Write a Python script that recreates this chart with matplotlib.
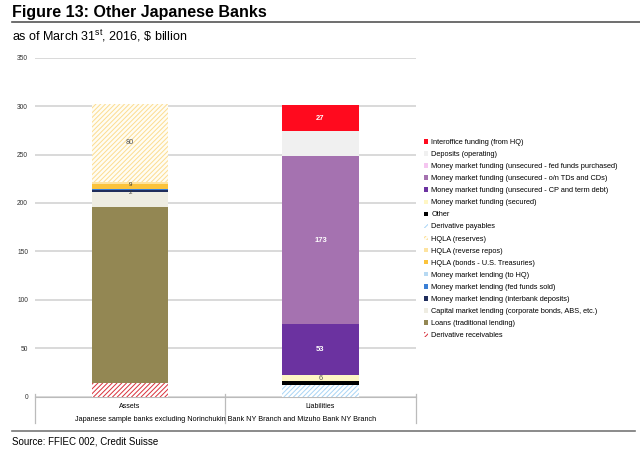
import matplotlib.pyplot as plt
import numpy as np

plt.rcParams['font.family'] = ['Liberation Sans', 'DejaVu Sans']
plt.rcParams['mathtext.fontset'] = 'custom'
plt.rcParams['mathtext.rm'] = 'Liberation Sans'
plt.rcParams['hatch.linewidth'] = 0.7

categories = ["Assets", "Liabilities"]

# stacking order, bottom to top
series = [
    "Derivative receivables",
    "Loans (traditional lending)",
    "Capital market lending (corporate bonds, ABS, etc.)",
    "Money market lending (interbank deposits)",
    "Money market lending (fed funds sold)",
    "Money market lending (to HQ)",
    "HQLA (bonds - U.S. Treasuries)",
    "HQLA (reverse repos)",
    "HQLA (reserves)",
    "Derivative payables",
    "Other",
    "Money market funding (secured)",
    "Money market funding (unsecured - CP and term debt)",
    "Money market funding (unsecured - o/n TDs and CDs)",
    "Money market funding (unsecured - fed funds purchased)",
    "Deposits (operating)",
    "Interoffice funding (from HQ)",
]
assets = [14, 182, 15, 2, 1, 0, 6, 2, 80, 0, 0, 0, 0, 0, 0, 0, 0]
liabilities = [0, 0, 0, 0, 0, 0, 0, 0, 0, 12, 4, 6, 53, 173, 0, 26, 27]

# data labels as printed on the chart ("" = none)
asset_labels = ["", "", "", "2", "", "", "9", "", "80", "", "", "", "", "", "", "", ""]
liab_labels = ["", "", "", "", "", "", "", "", "", "", "", "6", "53", "173", "", "", "27"]

colors = ["#FFFFFF", "#938753", "#EEECE2", "#1F2D5C", "#3A7FD5", "#B7D9F2",
          "#FBC33C", "#FDE3A0", "#FFFDF4", "#FFFFFF", "#000000", "#FFF6C4",
          "#6B32A0", "#A572B0", "#F5C6F0", "#F0F0F0", "#FF0A1E"]
hatches = {0: ("///////", "#D8303A"), 8: ("///////", "#FCDC90"), 9: ("///////", "#A8D4F5")}
white_labels = {12, 13, 16}

fig = plt.figure(figsize=(6.4, 4.55), dpi=100)
ax = fig.add_axes([35 / 640, 1 - 396.7 / 455, 380.6 / 640, 339 / 455])

x = np.arange(len(categories))
bottom = np.zeros(len(categories))
handles = []
for i, name in enumerate(series):
    vals = np.array([assets[i], liabilities[i]], dtype=float)
    if i in hatches:
        h, ec = hatches[i]
        b = ax.bar(x, vals, 0.4, bottom=bottom, color=colors[i], edgecolor=ec,
                   hatch=h, linewidth=0, label=name, zorder=3)
    else:
        b = ax.bar(x, vals, 0.4, bottom=bottom, color=colors[i], linewidth=0,
                   label=name, zorder=3)
    handles.append(b)
    for j, lab in enumerate([asset_labels[i], liab_labels[i]]):
        if not lab:
            continue
        yc = bottom[j] + vals[j] / 2
        if i in white_labels:
            ax.text(x[j], yc, lab, ha="center", va="center",
                    fontsize=5.5, color="white", fontweight="bold", zorder=5)
        elif vals[j] < 5:
            # tiny segments: the label sits just under the neighbouring one
            ax.text(x[j], yc - 1.5, lab, ha="center", va="center",
                    fontsize=4.5, color="#333333", zorder=5)
        elif j == 0 and vals[j] < 10:
            ax.text(x[j], yc + 2.5, lab, ha="center", va="center",
                    fontsize=4.5, color="#333333", zorder=5)
        else:
            ax.text(x[j], yc, lab, ha="center", va="center",
                    fontsize=5.3, color="#555555", zorder=5)
    bottom += vals

ax.set_xlim(-0.5, 1.5)
ax.set_ylim(0, 350)
ax.set_yticks(range(0, 351, 50))
ax.tick_params(axis="y", labelsize=4.8, length=0, pad=5, labelcolor="#333333")
ax.yaxis.grid(True, color="#D0D0D0", linewidth=1.1, zorder=0)
ax.set_xticks([])
for s in ["left", "right", "top"]:
    ax.spines[s].set_visible(False)
ax.spines["bottom"].set_color("#BBBBBB")

# category axis box
trans = ax.get_xaxis_transform()
for xv in [-0.5, 0.5, 1.5]:
    ax.plot([xv, xv], [0.008, -0.078], color="#BBBBBB", linewidth=0.9,
            transform=trans, clip_on=False)
for j, c in enumerate(categories):
    ax.text(x[j], -0.03, c, transform=trans, ha="center", va="center", fontsize=5)
ax.text(0.5, -0.066,
        "Japanese sample banks excluding Norinchukin Bank NY Branch and Mizuho Bank NY Branch",
        transform=trans, ha="center", va="center", fontsize=5.2)

leg = fig.legend(handles[::-1], series[::-1], loc="upper left",
                 bbox_to_anchor=(421 / 640, 1 - 136 / 455), frameon=False,
                 fontsize=5.3, handlelength=0.55, handleheight=0.55,
                 handletextpad=0.45, labelspacing=0.69, borderaxespad=0)

fig.text(12 / 640, 1 - 13 / 455, "Figure 13: Other Japanese Banks", fontsize=11.5,
         fontweight="bold", va="center")
fig.add_artist(plt.Line2D([12 / 640, 1.0], [1 - 22 / 455, 1 - 22 / 455],
                          color="#555555", linewidth=1.2))
fig.text(12 / 640, 1 - 36 / 455, "as of March 31$^{\\rm st}$, 2016, $\\$$ billion",
         fontsize=9, va="center")
fig.add_artist(plt.Line2D([12 / 640, 635 / 640], [1 - 430.7 / 455, 1 - 430.7 / 455],
                          color="#777777", linewidth=1.2))
fig.text(12 / 640, 1 - 442 / 455, "Source: FFIEC 002, Credit Suisse", fontsize=7,
         va="center")

fig.savefig("out.png", dpi=100)
